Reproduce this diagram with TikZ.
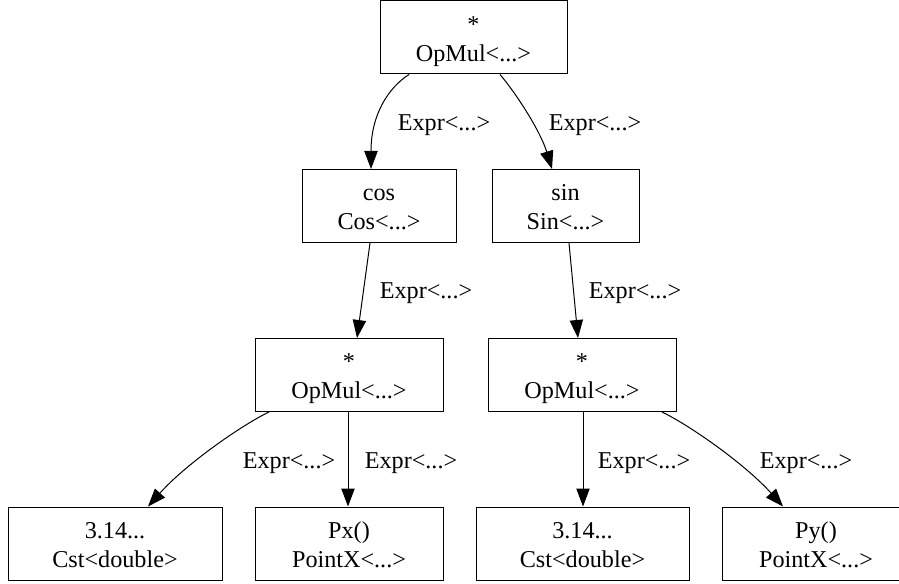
\documentclass[tikz,border=0pt]{standalone}
\usepackage{fontspec}
\setmainfont{Liberation Serif}
\usetikzlibrary{arrows.meta}
\newcommand{\twoline}[2]{\rule{0pt}{15.4pt}#1\\#2\rule[-4pt]{0pt}{4pt}}
\begin{document}
\begin{tikzpicture}[x=0.6pt, y=-0.6pt,
		box/.style={draw, rectangle, line width=0.6pt, minimum height=43.8pt, inner sep=0pt, align=center, font=\fontsize{14.5pt}{17.4pt}\selectfont},
		lbl/.style={inner sep=0pt, font=\fontsize{14.5pt}{17.4pt}\selectfont},
		edge/.style={line width=0.6pt, -{Triangle[length=10.8pt, width=8pt]}}]
		\useasboundingbox (0,0) rectangle (899,584);
		% nodes
		\node[box, minimum width=112.2pt] (mul0) at (473.5,37.5) {\twoline{*}{OpMul<...>}};
		\node[box, minimum width=92.4pt] (cos) at (379,206) {\twoline{cos}{Cos<...>}};
		\node[box, minimum width=88.2pt] (sin) at (565.5,206) {\twoline{sin}{Sin<...>}};
		\node[box, minimum width=112.8pt] (mul1) at (349,375) {\twoline{*}{OpMul<...>}};
		\node[box, minimum width=112.8pt] (mul2) at (582,375) {\twoline{*}{OpMul<...>}};
		\node[box, minimum width=128.4pt] (cst1) at (115,543.5) {\twoline{3.14...}{Cst<double>}};
		\node[box, minimum width=112.8pt] (px) at (349,543.5) {\twoline{Px()}{PointX<...>}};
		\node[box, minimum width=127.8pt] (cst2) at (582.5,543.5) {\twoline{3.14...}{Cst<double>}};
		\node[box, minimum width=112.8pt] (py) at (816,543.5) {\twoline{Py()}{PointX<...>}};
		% edges
		\draw[edge] ([shift={(-64.5,0)}]mul0.south) .. controls (388,88) and (371,115) .. ([shift={(-8,0)}]cos.north);
		\draw[edge] ([shift={(26.5,0)}]mul0.south) .. controls (515,92) and (540,130) .. ([shift={(-13.5,0)}]sin.north);
		\draw[edge] ([shift={(-9,0)}]cos.south) -- ([shift={(8,0)}]mul1.north);
		\draw[edge] ([shift={(3.5,0)}]sin.south) -- ([shift={(-4,0)}]mul2.north);
		\draw[edge] ([shift={(-80,0)}]mul1.south) .. controls (240,426) and (185,465) .. ([shift={(33,0)}]cst1.north);
		\draw[edge] ([shift={(-1,0)}]mul1.south) -- ([shift={(-1,0)}]px.north);
		\draw[edge] ([shift={(1,0)}]mul2.south) -- ([shift={(0.5,0)}]cst2.north);
		\draw[edge] ([shift={(80,0)}]mul2.south) .. controls (691,426) and (746,465) .. ([shift={(-33,0)}]py.north);
		% labels
		\node[lbl] (e1) at (444,125) {Expr<...>};
		\node[lbl] (e2) at (595,125) {Expr<...>};
		\node[lbl] (e3) at (426,293) {Expr<...>};
		\node[lbl] (e4) at (635,293) {Expr<...>};
		\node[lbl] (e5) at (289,463) {Expr<...>};
		\node[lbl] (e6) at (411,463) {Expr<...>};
		\node[lbl] (e7) at (644,463) {Expr<...>};
		\node[lbl] (e8) at (806,463) {Expr<...>};
	\end{tikzpicture}
\end{document}
